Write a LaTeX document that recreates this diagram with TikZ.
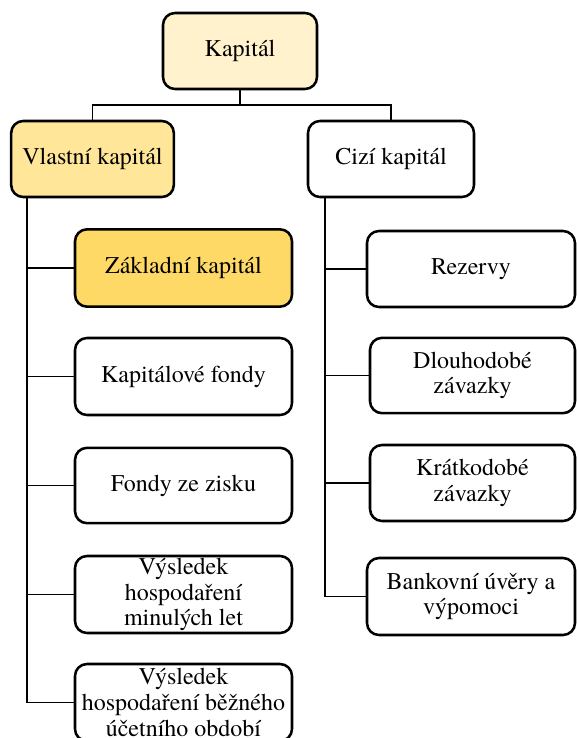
\documentclass[tikz,border=0pt]{standalone}
\usepackage{fontspec}
\newfontfamily\boxfont{TeX Gyre Termes}
\definecolor{ylight}{HTML}{FFF2CC}
\definecolor{ymid}{HTML}{FFE699}
\definecolor{ydark}{HTML}{FFD966}
\tikzset{
  box/.style={draw=black, line width=1.9pt, rounded corners=9pt, fill=white,
    align=center, inner sep=0pt, font=\boxfont\fontsize{18}{19.3}\selectfont},
  link/.style={draw=black, line width=0.9pt},
}
\begin{document}
\begin{tikzpicture}[x=0.75pt,y=-0.75pt]
\useasboundingbox (0,0) rectangle (577,738);
% top level
\node[box, fill=ylight, minimum width=115.5pt, minimum height=57pt] (k) at (240,51) {Kapitál};
\node[box, fill=ymid, minimum width=122pt, minimum height=57pt] (vk) at (92.5,159) {Vlastní kapitál};
\node[box, minimum width=124.5pt, minimum height=57pt] (ck) at (391,159) {Cizí kapitál};
% left column
\node[box, fill=ydark, minimum width=162.75pt, minimum height=58pt] (zk) at (183.5,268) {Základní kapitál};
\node[box, minimum width=162.75pt, minimum height=57.75pt] (kf) at (183.5,376.5) {Kapitálové fondy};
\node[box, minimum width=162.75pt, minimum height=56.5pt] (fz) at (183.5,485.5) {Fondy ze zisku};
\node[box, minimum width=162.75pt, minimum height=57.75pt] (vm) at (183.5,594.5) {Výsledek\\hospodaření\\minulých let};
\node[box, minimum width=162.75pt, minimum height=57.75pt] (vb) at (183.5,702.5) {Výsledek\\hospodaření běžného\\účetního období};
% right column
\node[box, minimum width=156pt, minimum height=57pt] (rz) at (471,269) {Rezervy};
\node[box, minimum width=153.75pt, minimum height=56.5pt] (dz) at (472.5,375.5) {Dlouhodobé\\závazky};
\node[box, minimum width=153.75pt, minimum height=57pt] (kz) at (472.5,483) {Krátkodobé\\závazky};
\node[box, minimum width=156pt, minimum height=57.75pt] (bu) at (471,596.5) {Bankovní úvěry a\\výpomoci};
% connectors
\coordinate (bus) at (240,105);
\draw[link] (k.south) -- (bus);
\draw[link] (vk.north) |- (bus) -| (ck.north);
\coordinate (lt) at (27,197);
\coordinate (rt) at (325,197);
\foreach \n in {zk,kf,fz,vm,vb} \draw[link] (lt) |- (\n.west);
\foreach \n in {rz,dz,kz,bu} \draw[link] (rt) |- (\n.west);
\end{tikzpicture}
\end{document}
